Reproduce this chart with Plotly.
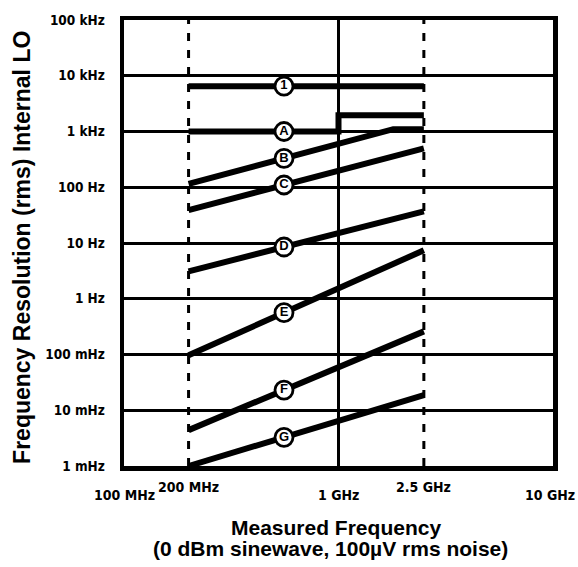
import numpy as np
import plotly.graph_objects as go

# ---------------- data (x in GHz, y in Hz) ----------------
x_range_ghz = [0.1, 10.0]
y_range_hz = [1e-3, 1e5]

line1_x = [0.2, 2.5]
line1_y = [6500, 6500]
lineA_x = [0.2, 1.0, 1.0, 2.5]
lineA_y = [1000, 1000, 1950, 1950]
lineB_x = [0.2, 1.8, 2.5]
lineB_y = [115, 1100, 1100]
lineC_x = [0.2, 2.5]
lineC_y = [39, 500]
lineD_x = [0.2, 2.5]
lineD_y = [3.1, 37]
lineE_x = [0.2, 2.5]
lineE_y = [0.097, 7.4]
lineF_x = [0.2, 2.5]
lineF_y = [0.0044, 0.26]
lineG_x = [0.2, 2.5]
lineG_y = [0.001, 0.0186]

series_labels = ["1", "A", "B", "C", "D", "E", "F", "G"]
label_x_ghz = 0.557

dashed_marker_x = [0.2, 2.5]
solid_marker_x = [1.0]

y_tick_vals = [1e-3, 1e-2, 1e-1, 1, 10, 100, 1e3, 1e4, 1e5]
y_tick_text = ["1 mHz", "10 mHz", "100 mHz", "1 Hz", "10 Hz",
               "100 Hz", "1 kHz", "10 kHz", "100 kHz"]
x_tick_vals = [0.1, 0.2, 1.0, 2.5, 10.0]
x_tick_text = ["100 MHz", "200 MHz", "1 GHz", "2.5 GHz", "10 GHz"]
x_tick_low = [True, False, True, False, True]

x_title = "Measured Frequency"
x_subtitle = "(0 dBm sinewave, 100µV rms noise)"
y_title = "Frequency Resolution (rms) Internal LO"

# ---------------- figure ----------------
series_x = [line1_x, lineA_x, lineB_x, lineC_x, lineD_x, lineE_x, lineF_x, lineG_x]
series_y = [line1_y, lineA_y, lineB_y, lineC_y, lineD_y, lineE_y, lineF_y, lineG_y]

TICK_FONT = "DejaVu Sans Condensed, Liberation Sans Narrow, sans-serif"
TITLE_FONT = "Liberation Sans, Arial, sans-serif"

fig = go.Figure()

# vertical reference lines
for xv in dashed_marker_x:
    fig.add_trace(go.Scatter(x=[xv, xv], y=y_range_hz, mode="lines",
                             line=dict(color="black", width=3, dash="8px,9px"),
                             hoverinfo="skip"))
for xv in solid_marker_x:
    fig.add_trace(go.Scatter(x=[xv, xv], y=y_range_hz, mode="lines",
                             line=dict(color="black", width=3),
                             hoverinfo="skip"))

# data lines
for xs, ys, name in zip(series_x, series_y, series_labels):
    fig.add_trace(go.Scatter(x=xs, y=ys, mode="lines", name=name,
                             line=dict(color="black", width=6),
                             cliponaxis=False))

# circled labels placed on each line
lab_y = []
for xs, ys in zip(series_x, series_y):
    lx = np.log10(np.array(xs, dtype=float))
    ly = np.log10(np.array(ys, dtype=float))
    lab_y.append(10 ** np.interp(np.log10(label_x_ghz), lx, ly))
fig.add_trace(go.Scatter(
    x=[label_x_ghz] * len(series_labels), y=lab_y, mode="markers+text",
    text=series_labels, textposition="middle center",
    textfont=dict(family=TITLE_FONT, size=13, color="black", weight="bold"),
    marker=dict(size=18, color="white", line=dict(color="black", width=2.8)),
    cliponaxis=False, hoverinfo="skip"))

annotations = []
for v, t, low in zip(x_tick_vals, x_tick_text, x_tick_low):
    last = (v == x_tick_vals[-1])
    annotations.append(dict(
        x=np.log10(v), xref="x", y=0, yref="paper", yanchor="middle",
        xanchor="right" if last else "center", xshift=24 if last else 0,
        yshift=-29 if low else -21, showarrow=False, text=t,
        font=dict(family=TICK_FONT, size=14, color="black", weight="bold")))

annotations.append(dict(x=0.494, xref="paper", y=-0.137, yref="paper",
                        yanchor="middle", showarrow=False, text=x_title,
                        font=dict(family=TITLE_FONT, size=21, color="black",
                                  weight="bold")))
annotations.append(dict(x=0.481, xref="paper", y=-0.186, yref="paper",
                        yanchor="middle", showarrow=False, text=x_subtitle,
                        font=dict(family=TITLE_FONT, size=21, color="black",
                                  weight="bold")))
annotations.append(dict(x=-0.238, xref="paper", y=0.491, yref="paper",
                        xanchor="center", yanchor="middle", textangle=-90,
                        showarrow=False, text=y_title,
                        font=dict(family=TITLE_FONT, size=23, color="black",
                                  weight="bold")))

fig.update_layout(
    width=578, height=567,
    margin=dict(l=124, r=25, t=20, b=101),
    paper_bgcolor="white", plot_bgcolor="white",
    showlegend=False,
    xaxis=dict(type="log", range=[np.log10(x_range_ghz[0]), np.log10(x_range_ghz[1])],
               showgrid=False, zeroline=False, showticklabels=False, ticks="",
               showline=True, linecolor="black", linewidth=4.5, mirror=True,
               fixedrange=True),
    yaxis=dict(type="log", range=[np.log10(y_range_hz[0]), np.log10(y_range_hz[1])],
               tickmode="array", tickvals=y_tick_vals, ticktext=y_tick_text,
               tickfont=dict(family=TICK_FONT, size=13.5, color="black", weight="bold"),
               ticks="", ticklabelstandoff=12,
               showgrid=True, gridcolor="black", gridwidth=3, zeroline=False,
               showline=True, linecolor="black", linewidth=4.5, mirror=True,
               fixedrange=True),
    annotations=annotations,
)

fig.write_html(
    "out.html",
    config={"displayModeBar": False, "staticPlot": True},
    post_script="document.body.style.margin='0';document.body.style.overflow='hidden';",
)
